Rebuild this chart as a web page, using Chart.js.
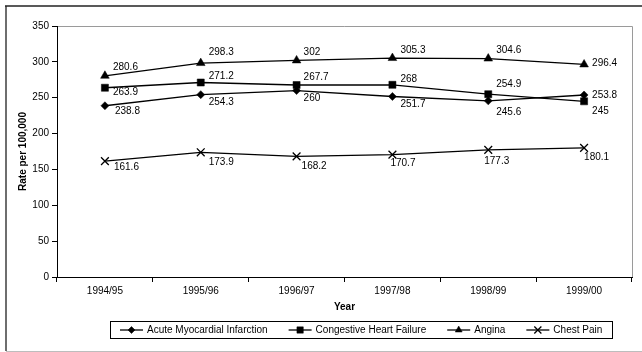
<!DOCTYPE html>
<html>
<head>
<meta charset="utf-8">
<script src="https://cdn.jsdelivr.net/npm/chart.js@4/dist/chart.umd.min.js"></script>
<style>
  html, body { margin: 0; padding: 0; background: #fff; }
  #wrap { width: 642px; height: 352px; position: relative; }
</style>
</head>
<body>
<div id="wrap"><canvas id="c" width="642" height="352"></canvas></div>
<script>
// Fiscal years on the category axis
const years = ['1994/95', '1995/96', '1996/97', '1997/98', '1998/99', '1999/00'];

// Rates per 100,000 for each condition
const acuteMI = [238.8, 254.3, 260, 251.7, 245.6, 253.8];
const heartFailure = [263.9, 271.2, 267.7, 268, 254.9, 245];
const angina = [280.6, 298.3, 302, 305.3, 304.6, 296.4];
const chestPain = [161.6, 173.9, 168.2, 170.7, 177.3, 180.1];

// Value-axis tick labels
const rateTicks = [0, 50, 100, 150, 200, 250, 300, 350];

// Where each value label sits relative to its point: [dx, dy] in pixels
const amiLabelPos = [[10, 6], [8, 8], [7, 8], [8, 8], [8, 11], [8, 0]];
const chfLabelPos = [[8, 5], [8, -6], [7, -8], [8, -6], [8, -10], [8, 10]];
const anginaLabelPos = [[8, -9], [8, -11], [7, -8], [8, -8], [8, -8], [8, -1]];
const chestLabelPos = [[9, 6], [8, 10], [5, 10], [-2, 9], [-4, 11], [0, 9]];

const FONT = '"Liberation Sans", Arial, sans-serif';

const decorations = {
  id: 'decorations',
  beforeDraw(chart) {
    const ctx = chart.ctx;
    const W = chart.width, H = chart.height;
    ctx.save();
    ctx.fillStyle = '#fff';
    ctx.fillRect(0, 0, W, H);
    // outer frame
    ctx.lineWidth = 2;
    ctx.strokeStyle = '#6e6e6e';
    ctx.beginPath(); ctx.moveTo(6, 6); ctx.lineTo(6, H - 1); ctx.stroke();
    ctx.strokeStyle = '#222';
    ctx.lineWidth = 1.5;
    ctx.beginPath(); ctx.moveTo(5, 6); ctx.lineTo(W, 6); ctx.stroke();
    ctx.strokeStyle = '#bdbdbd';
    ctx.lineWidth = 1;
    ctx.beginPath(); ctx.moveTo(6, H - 0.5); ctx.lineTo(W, H - 0.5); ctx.stroke();
    // plot-area top and right edges
    const a = chart.chartArea;
    ctx.strokeStyle = '#9a9a9a';
    ctx.lineWidth = 1;
    ctx.beginPath();
    ctx.moveTo(a.left, Math.round(a.top) + 0.5);
    ctx.lineTo(Math.round(a.right) + 0.5, Math.round(a.top) + 0.5);
    ctx.lineTo(Math.round(a.right) + 0.5, a.bottom);
    ctx.stroke();
    ctx.restore();
  },
  afterDatasetsDraw(chart) {
    const ctx = chart.ctx;
    ctx.save();
    ctx.font = '10px ' + FONT;
    ctx.fillStyle = '#000';
    ctx.textAlign = 'left';
    ctx.textBaseline = 'middle';
    chart.data.datasets.forEach((ds, di) => {
      const meta = chart.getDatasetMeta(di);
      meta.data.forEach((pt, i) => {
        const off = ds.labelPos[i];
        ctx.fillText(String(ds.data[i]), pt.x + off[0], pt.y + off[1]);
      });
    });
    ctx.restore();
  },
  afterDraw(chart) {
    // legend: line + marker sample followed by the series name
    const ctx = chart.ctx;
    ctx.save();
    ctx.font = '10px ' + FONT;
    const lineLen = 23, gapText = 4, gapItem = 21, pad = 10;
    const items = chart.data.datasets.map(ds => ({ ds, w: ctx.measureText(ds.label).width }));
    const total = items.reduce((s, it) => s + lineLen + gapText + it.w, 0) + gapItem * (items.length - 1) + 2 * pad;
    const cx = 361, top = 321, h = 17;
    const left = Math.round(cx - total / 2);
    ctx.strokeStyle = '#000';
    ctx.lineWidth = 1;
    ctx.strokeRect(left + 0.5, top + 0.5, Math.round(total), h);
    const cy = top + h / 2 + 0.5;
    let x = left + pad;
    items.forEach(it => {
      const ds = it.ds;
      ctx.strokeStyle = '#000';
      ctx.lineWidth = 1.3;
      ctx.beginPath(); ctx.moveTo(x, cy); ctx.lineTo(x + lineLen, cy); ctx.stroke();
      const opts = {
        pointStyle: ds.pointStyle,
        radius: ds.legendRadius,
        rotation: 0,
        borderWidth: ds.pointBorderWidth
      };
      ctx.fillStyle = '#000';
      ctx.strokeStyle = '#000';
      ctx.lineWidth = ds.pointBorderWidth;
      Chart.helpers.drawPoint(ctx, opts, x + lineLen / 2, cy);
      ctx.fillStyle = '#000';
      ctx.textAlign = 'left';
      ctx.textBaseline = 'middle';
      ctx.fillText(ds.label, x + lineLen + gapText, cy);
      x += lineLen + gapText + it.w + gapItem;
    });
    ctx.restore();
  }
};

const common = {
  borderColor: '#000',
  backgroundColor: '#000',
  pointBackgroundColor: '#000',
  pointBorderColor: '#000',
  borderWidth: 1.3,
  tension: 0,
  fill: false
};

new Chart(document.getElementById('c'), {
  type: 'line',
  data: {
    labels: years,
    datasets: [
      Object.assign({}, common, { label: 'Acute Myocardial Infarction', data: acuteMI, labelPos: amiLabelPos,
        pointStyle: 'rectRot', pointRadius: 4, pointBorderWidth: 0.5, legendRadius: 3.5 }),
      Object.assign({}, common, { label: 'Congestive Heart Failure', data: heartFailure, labelPos: chfLabelPos,
        pointStyle: 'rect', pointRadius: 5, pointBorderWidth: 0.5, legendRadius: 4.5 }),
      Object.assign({}, common, { label: 'Angina', data: angina, labelPos: anginaLabelPos,
        pointStyle: 'triangle', pointRadius: 5, pointBorderWidth: 0.5, legendRadius: 4 }),
      Object.assign({}, common, { label: 'Chest Pain', data: chestPain, labelPos: chestLabelPos,
        pointStyle: 'crossRot', pointRadius: 5.5, pointBorderWidth: 1.3, legendRadius: 5 })
    ]
  },
  options: {
    responsive: false,
    animation: false,
    devicePixelRatio: 1,
    layout: { padding: { left: 0, right: 10, top: 26, bottom: 0 } },
    plugins: { legend: { display: false }, tooltip: { enabled: false } },
    elements: { line: { borderCapStyle: 'butt' } },
    scales: {
      x: {
        type: 'category',
        offset: true,
        grid: { offset: true, drawOnChartArea: false, drawTicks: true, tickLength: 5, color: '#000', lineWidth: 1 },
        border: { display: true, color: '#000', width: 1 },
        ticks: { color: '#000', font: { family: FONT, size: 10 }, padding: 3, maxRotation: 0, autoSkip: false },
        title: { display: true, text: 'Year', color: '#000', font: { family: FONT, size: 10, weight: 'bold' }, padding: { top: 0, bottom: 39 } },
        afterFit(s) { s.height = 75; }
      },
      y: {
        min: 0,
        max: 350,
        afterBuildTicks(s) { s.ticks = rateTicks.map(v => ({ value: v })); },
        grid: { drawOnChartArea: false, drawTicks: true, tickLength: 5, color: '#000', lineWidth: 1 },
        border: { display: true, color: '#000', width: 1 },
        ticks: { color: '#000', font: { family: FONT, size: 10 }, padding: 3 },
        title: { display: true, text: 'Rate per 100,000', color: '#000', font: { family: FONT, size: 10, weight: 'bold' }, padding: { top: 17, bottom: 0 } },
        afterFit(s) { s.width = 57; }
      }
    }
  },
  plugins: [decorations]
});
</script>
</body>
</html>
